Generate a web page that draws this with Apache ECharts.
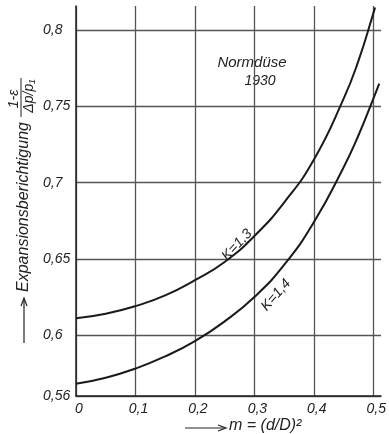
<!DOCTYPE html>
<html><head><meta charset="utf-8">
<script src="https://cdn.jsdelivr.net/npm/echarts@6/dist/echarts.min.js"></script>
<style>html,body{margin:0;padding:0;background:#fff}#c{width:389px;height:434px}</style>
</head><body><div id="c"></div>
<script>
// curve K = 1,3
const mK13 = [0, 0.05, 0.1, 0.15, 0.2, 0.25, 0.3, 0.35, 0.4, 0.45, 0.475, 0.5, 0.503];
const yK13 = [0.611, 0.614, 0.619, 0.626, 0.636, 0.648, 0.665, 0.687, 0.715, 0.755, 0.780, 0.811, 0.815];
// curve K = 1,4
const mK14 = [0, 0.05, 0.1, 0.15, 0.2, 0.25, 0.3, 0.35, 0.4, 0.45, 0.475, 0.5, 0.51];
const yK14 = [0.568, 0.572, 0.578, 0.586, 0.596, 0.609, 0.625, 0.646, 0.674, 0.710, 0.731, 0.755, 0.765];
// ticks
const xTicks = [0, 0.1, 0.2, 0.3, 0.4, 0.5];
const yTicks = [0.56, 0.6, 0.65, 0.7, 0.75, 0.8];
const curveLabels = ['K=1,3', 'K=1,4'];
const yTitle = 'Expansionsberichtigung';
const fracNum = '1-ε';
const fracDen = 'Δp/p₁';
const xTitle = 'm = (d/D)²';
const noteLines = ['Normdüse', '1930'];

const FONT = '"Liberation Sans", Arial, sans-serif';
const fmt = v => String(+(+v).toFixed(2)).replace('.', ',');
const INK = '#222';
const GRID = '#555';

const chart = echarts.init(document.getElementById('c'), null, {renderer: 'canvas'});
const txt = (x, y, text, size, rot, extra) => ({
  type: 'text', x: x, y: y, rotation: rot || 0, silent: true,
  style: Object.assign({text: text, fill: INK, font: 'italic ' + size + 'px ' + FONT,
    textAlign: 'center', textVerticalAlign: 'middle'}, extra || {})
});
const option = {
  animation: false,
  backgroundColor: '#fff',
  grid: {left: 76, right: 0, top: 6, bottom: 38},
  xAxis: {
    type: 'value', min: 0, max: 0.513,
    axisLine: {show: true, lineStyle: {color: INK, width: 1.5}},
    axisTick: {show: false, customValues: xTicks},
    axisLabel: {customValues: xTicks, formatter: fmt, fontFamily: FONT, fontStyle: 'italic',
      fontSize: 14, color: INK, margin: 6, padding: [0, 0, 0, 6]},
    splitLine: {show: true, lineStyle: {color: GRID, width: 1.3}}
  },
  yAxis: {
    type: 'value', min: 0.56, max: 0.816,
    axisLine: {show: true, lineStyle: {color: INK, width: 1.5}},
    axisTick: {show: false, customValues: yTicks},
    axisLabel: {customValues: yTicks, formatter: fmt, fontFamily: FONT, fontStyle: 'italic',
      fontSize: 14, color: INK, margin: 33, align: 'left', padding: [5, 0, 0, 0]},
    splitLine: {show: true, lineStyle: {color: GRID, width: 1.3}}
  },
  series: [
    {type: 'line', name: curveLabels[0], data: mK13.map((m, i) => [m, yK13[i]]), smooth: 0.5,
      showSymbol: false, lineStyle: {color: '#1a1a1a', width: 2}},
    {type: 'line', name: curveLabels[1], data: mK14.map((m, i) => [m, yK14[i]]), smooth: 0.5,
      showSymbol: false, lineStyle: {color: '#1a1a1a', width: 2}}
  ],
  graphic: [
    txt(24, 207, yTitle, 16, Math.PI / 2),
    txt(14.5, 99, fracNum, 14, Math.PI / 2),
    {type: 'line', silent: true, shape: {x1: 21, y1: 78, x2: 21, y2: 117}, style: {stroke: INK, lineWidth: 1}},
    txt(29.5, 96, fracDen, 14, Math.PI / 2),
    {type: 'line', silent: true, shape: {x1: 24, y1: 343, x2: 24, y2: 300}, style: {stroke: INK, lineWidth: 1.2}},
    {type: 'polyline', silent: true, shape: {points: [[21, 306], [24, 298], [27, 306]]}, style: {stroke: INK, lineWidth: 1.2, fill: null}},
    {type: 'line', silent: true, shape: {x1: 185, y1: 428, x2: 225, y2: 428}, style: {stroke: INK, lineWidth: 1.2}},
    {type: 'polyline', silent: true, shape: {points: [[218, 425], [226, 428], [218, 431]]}, style: {stroke: INK, lineWidth: 1.2, fill: null}},
    txt(229, 426, xTitle, 16, 0, {textAlign: 'left'}),
    txt(252, 63, noteLines[0], 15),
    txt(260, 81, noteLines[1], 14),
    txt(237, 245, curveLabels[0], 14, 0.82),
    txt(276, 295, curveLabels[1], 14, 0.85)
  ]
};
chart.setOption(option);
</script>
</body></html>
